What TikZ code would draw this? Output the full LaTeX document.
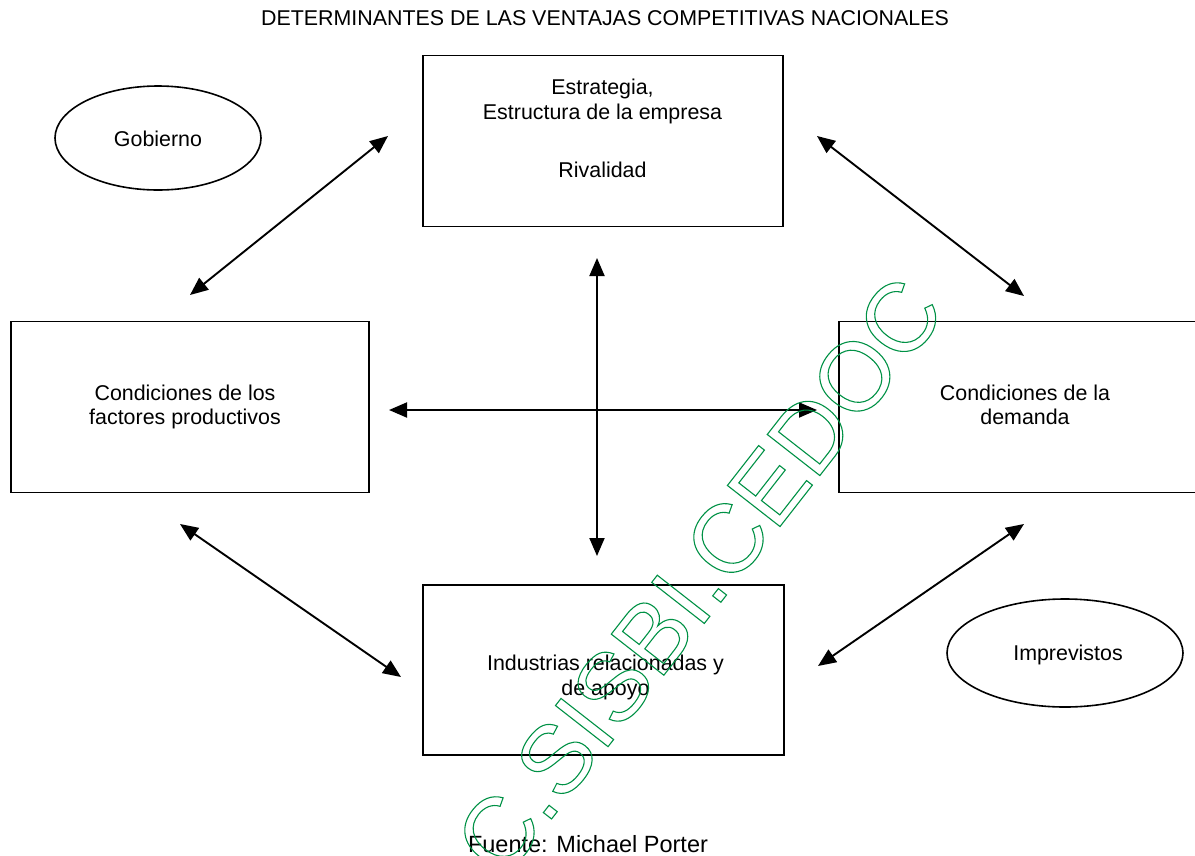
\documentclass[tikz,border=0pt]{standalone}
\usepackage{fontspec}
\setmainfont{Liberation Sans}
\usetikzlibrary{arrows.meta,shapes.geometric}
\begin{document}
\begin{tikzpicture}[x=1pt,y=-1pt,
  box/.style={draw,line width=1.9pt,inner sep=0pt,minimum width=#1,minimum height=171pt},
  ell/.style={draw,ellipse,line width=1.6pt,inner sep=0pt},
  txt/.style={anchor=base,inner sep=0pt,font=\fontsize{21.4}{25}\selectfont},
  conn/.style={{Triangle[length=18pt,width=15pt]}-{Triangle[length=18pt,width=15pt]},line width=1.9pt}]
\useasboundingbox (0,0) rectangle (1195,855);
% title
\node[anchor=base,inner sep=0pt,font=\fontsize{21.4}{24}\selectfont] (title) at (605,25) {DETERMINANTES DE LAS VENTAJAS COMPETITIVAS NACIONALES};
% boxes
\node[box=360pt] (top) at (603,141) {};
\node[box=358pt] (left) at (190,407) {};
\node[box=358pt] (right) at (1018,407) {};
\node[box=361pt,minimum height=170pt] (bottom) at (603.5,670) {};
% ellipses
\node[ell,minimum width=206pt,minimum height=104pt] (gob) at (158,138) {};
\node[ell,minimum width=236pt,minimum height=108pt] (imp) at (1065,653) {};
% texts
\node[txt] (t1) at (602.5,94) {Estrategia,};
\node[txt] (t2) at (602.5,119) {Estructura de la empresa};
\node[txt] (t3) at (602.5,177) {Rivalidad};
\node[txt] (l1) at (185,400) {Condiciones de los};
\node[txt] (l2) at (185,424) {factores productivos};
\node[txt] (r1) at (1025,400) {Condiciones de la};
\node[txt] (r2) at (1025,424) {demanda};
\node[txt] (b1) at (605.5,670) {Industrias relacionadas y};
\node[txt] (b2) at (605.5,695) {de apoyo};
\node[txt] (g1) at (158,146) {Gobierno};
\node[txt] (i1) at (1068,660) {Imprevistos};
\node[anchor=base,inner sep=0pt,font=\fontsize{23.5}{28}\selectfont] (src) at (588,852) {Fuente: Michael Porter};
% connector ends
\coordinate (a1) at (388,136); \coordinate (a2) at (190,295);
\coordinate (b1e) at (817,136); \coordinate (b2e) at (1024,296);
\coordinate (v1) at (597,258); \coordinate (v2) at (597,556);
\coordinate (h1) at (389,410); \coordinate (h2) at (817,410);
\coordinate (c1) at (180,524); \coordinate (c2) at (401,677);
\coordinate (d1) at (1024,524); \coordinate (d2) at (818,666);
\draw[conn] (a1) -- (a2);
\draw[conn] (b1e) -- (b2e);
\draw[conn] (v1) -- (v2);
\draw[conn] (h1) -- (h2);
\draw[conn] (c1) -- (c2);
\draw[conn] (d1) -- (d2);
% watermark
\node[rotate=52,inner sep=0pt,font=\fontsize{97}{97}\selectfont] (wm) at (699,576) {\special{pdf:literal direct 1 Tr 1.1 w 0 0.57 0.27 RG}C.SISBI.CEDOC};
\end{tikzpicture}
\end{document}
